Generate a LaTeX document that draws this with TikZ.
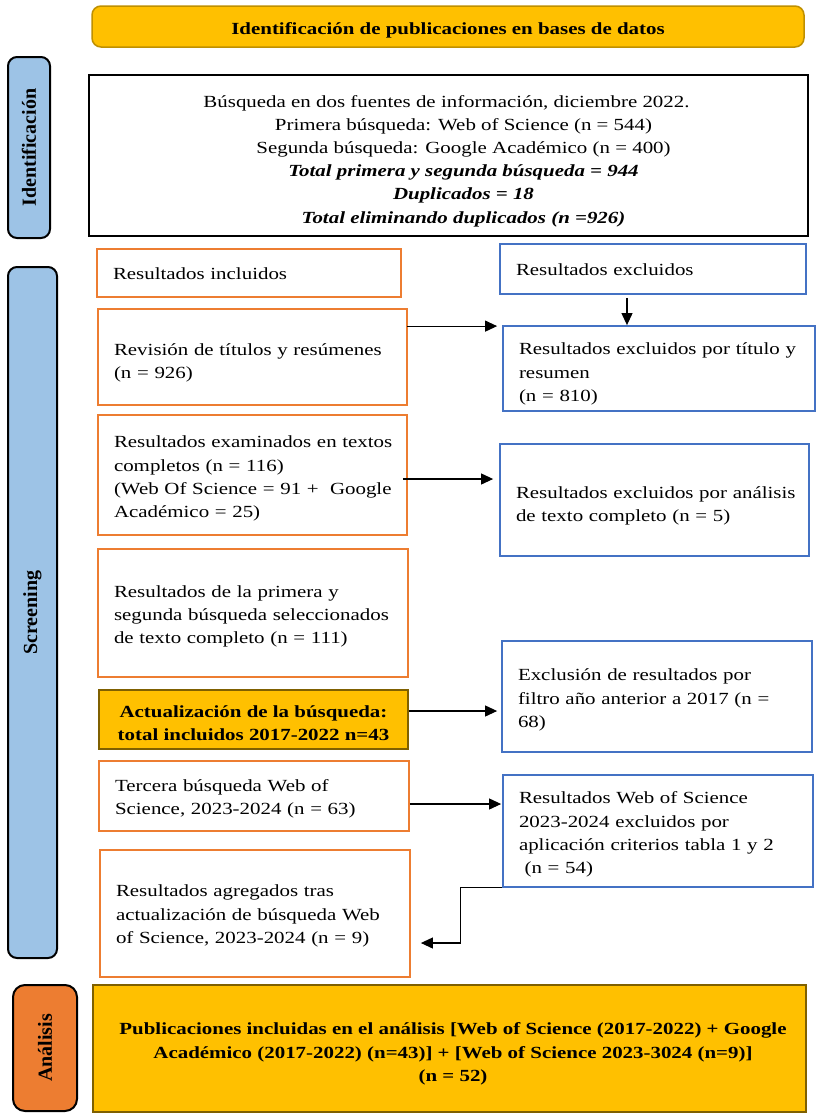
\documentclass[tikz,border=0pt]{standalone}
\usepackage{fontspec}
\setmainfont[FakeStretch=1.23]{Liberation Serif}
\newfontfamily\rotfont{Liberation Serif}
\usetikzlibrary{arrows.meta,calc}
\definecolor{gold}{HTML}{FFC000}
\definecolor{goldline}{HTML}{7F6000}
\definecolor{bannerline}{HTML}{BF9000}
\definecolor{orangeb}{HTML}{ED7D31}
\definecolor{blueb}{HTML}{4472C4}
\definecolor{tabblue}{HTML}{9DC3E6}
\newcommand{\mytl}[2][4pt]{\raisebox{-#1}[\height][\depth]{\begin{tabular}{@{}l@{}}#2\end{tabular}}}
\newcommand{\mytc}[2][4pt]{\raisebox{-#1}[\height][\depth]{\begin{tabular}{@{}c@{}}#2\end{tabular}}}
\begin{document}
\begin{tikzpicture}[x=1pt,y=-1pt,
 every node/.style={font=\fontsize{17}{23.2}\selectfont},
 base/.style={rectangle, inner sep=0pt},
 obox/.style={base, draw=orangeb, line width=1.8pt, fill=white, align=left, inner xsep=16pt},
 bbox/.style={base, draw=blueb, line width=1.8pt, fill=white, align=left, inner xsep=16pt},
 gbox/.style={base, draw=goldline, line width=2pt, fill=gold, align=center, font=\fontsize{17}{23.2}\selectfont\bfseries},
 tab/.style={base, rounded corners=9pt, draw=black, line width=2pt, rotate=90, font=\rotfont\fontsize{20}{22}\selectfont\bfseries},
 arr/.style={draw=black, line width=1.1pt, -{Triangle[length=12pt,width=11pt]}},
]
\useasboundingbox (0,0) rectangle (817,1120);
\fill[white] (0,0) rectangle (817,1120);

\node[gbox, draw=bannerline, line width=1.5pt, rounded corners=9pt, minimum width=712pt, minimum height=41pt] (banner) at (448,26.5) {\mytc[3pt]{Identificación de publicaciones en bases de datos}};

\node[tab, fill=tabblue, minimum width=181pt, minimum height=42pt] (tid) at (29,147.5) {Identificación};

\node[base, draw=black, line width=2.5pt, align=center, minimum width=719pt, minimum height=161pt] (search) at (448.5,155.5) {\mytc[5pt]{Búsqueda en dos fuentes de información, diciembre 2022.\hspace*{4pt}\\
\hspace*{30pt}Primera búsqueda: Web of Science (n = 544)\\
\hspace*{30pt}Segunda búsqueda: Google Académico (n = 400)\\
\hspace*{30pt}\textbf{\textit{Total primera y segunda búsqueda = 944}}\\
\hspace*{30pt}\textbf{\textit{Duplicados = 18}}\\
\hspace*{30pt}\textbf{\textit{Total eliminando duplicados (n =926)}}}};

\node[tab, fill=tabblue, minimum width=691pt, minimum height=49pt] (tscr) at (32.5,612.5) {Screening};

\node[obox, minimum width=304pt, minimum height=48pt, text width=272pt] (inc) at (249,273) {\mytl[2pt]{Resultados incluidos}};
\node[bbox, minimum width=306pt, minimum height=50pt, text width=274pt] (exc) at (653,269) {\mytl[2pt]{Resultados excluidos}};

\node[obox, minimum width=309pt, minimum height=96pt, text width=277pt] (rev) at (252.5,357) {\mytl[5pt]{Revisión de títulos y resúmenes\\(n = 926)}};
\node[bbox, minimum width=312pt, minimum height=85pt, text width=280pt] (ex1) at (659,368.5) {\mytl[5pt]{Resultados excluidos por título y\\resumen\\(n = 810)}};

\node[obox, minimum width=309pt, minimum height=120pt, text width=277pt] (exam) at (252.5,475) {\mytl[3pt]{Resultados examinados en textos\\completos (n = 116)\\(Web Of Science = 91 +~ Google\\Académico = 25)}};
\node[bbox, minimum width=309pt, minimum height=112pt, text width=277pt] (ex2) at (654.5,500) {\mytl[5pt]{Resultados excluidos por análisis\\de texto completo (n = 5)}};

\node[obox, minimum width=310pt, minimum height=128pt, text width=278pt] (sel) at (253,613) {\mytl[3pt]{Resultados de la primera y\\segunda búsqueda seleccionados\\de texto completo (n = 111)}};

\node[gbox, minimum width=309pt, minimum height=59pt] (act) at (253.5,719.5) {\mytc[5pt]{Actualización de la búsqueda:\\total incluidos 2017-2022 n=43}};
\node[bbox, minimum width=310pt, minimum height=111pt, text width=278pt] (ex3) at (657,696.5) {\mytl[3pt]{Exclusión de resultados por\\filtro año anterior a 2017 (n =\\68)}};

\node[obox, minimum width=310pt, minimum height=70pt, text width=278pt] (ter) at (254,796) {\mytl[2pt]{Tercera búsqueda Web of\\Science, 2023-2024 (n = 63)}};
\node[bbox, minimum width=310pt, minimum height=112pt, text width=278pt] (ex4) at (658,831) {\mytl[3pt]{Resultados Web of Science\\2023-2024 excluidos por\\aplicación criterios tabla 1 y 2\\\ (n = 54)}};

\node[obox, minimum width=310pt, minimum height=127pt, text width=278pt] (agr) at (255,913.5) {\mytl[2pt]{Resultados agregados tras\\actualización de búsqueda Web\\of Science, 2023-2024 (n = 9)}};

\node[tab, fill=orangeb, rounded corners=12pt, minimum width=126pt, minimum height=64pt] (tan) at (45,1048) {Análisis};
\node[gbox, minimum width=713pt, minimum height=127pt] (final) at (449.5,1048.5) {\mytc[5pt]{\hspace*{7pt}Publicaciones incluidas en el análisis [Web of Science (2017-2022) + Google\\\hspace*{7pt}Académico (2017-2022) (n=43)] + [Web of Science 2023-3024 (n=9)]\\\hspace*{7pt}(n = 52)}};

% connectors
\coordinate (e1) at ($(exc.south)+(-26,3)$);
\draw[arr] (e1) -- (e1 |- ex1.north);
\draw[arr, shorten >=5pt] ($(rev.north east)+(-1,18)$) coordinate (a1) -- (a1 -| ex1.west);
\draw[arr, shorten >=6pt] ($(exam.east)+(-5,4)$) coordinate (a2) -- (a2 -| ex2.west);
\draw[arr, shorten >=4pt] ($(act.east)+(0,-8.5)$) coordinate (a3) -- (a3 -| ex3.west);
\draw[arr, shorten >=1pt] ($(ter.east)+(0,8)$) coordinate (a4) -- (a4 -| ex4.west);
\coordinate (agrin) at ($(agr.east)+(10,29.5)$);
\draw[arr] (ex4.south west) -- ++(-42,0) |- (agrin);
\end{tikzpicture}
\end{document}
